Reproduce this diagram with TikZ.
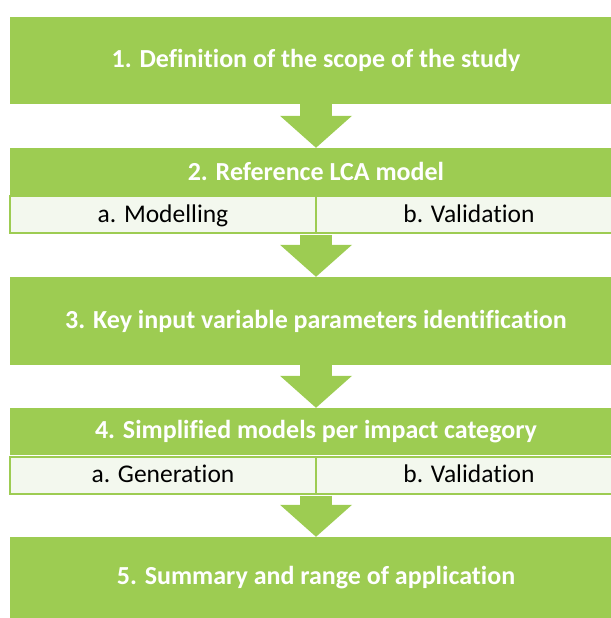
\documentclass[tikz,border=0pt]{standalone}
\usepackage{fontspec}
\setmainfont{Carlito}[Ligatures={NoCommon}]
\usetikzlibrary{arrows.meta, positioning}
\definecolor{stepgreen}{RGB}{157,204,82}
\definecolor{subfill}{RGB}{243,248,238}
\tikzset{
    stage/.style={rectangle, fill=stepgreen, text=white, font=\fontsize{26}{30}\selectfont\bfseries, minimum width=612pt, inner sep=0pt},
    sub/.style={rectangle, draw=stepgreen, line width=2pt, fill=subfill, font=\fontsize{25.5}{30}\selectfont, text height=18pt, text depth=3pt, minimum width=306pt, minimum height=37pt, inner sep=0pt},
    flow/.style={stepgreen, line width=32pt, -{Triangle[length=32pt, width=72pt, line width=0pt]}}
}

\begin{document}
\begin{tikzpicture}[x=1pt, y=-1pt]
    \useasboundingbox (0,0) rectangle (610,618);

    \node[stage, minimum height=87pt] (scope) at (316,60.5) {1. Definition of the scope of the study};
    \node[stage, minimum height=47pt] (refmodel) at (316,171.5) {2. Reference LCA model};
    \node[sub] (modelling) at (163,214.5) {a. Modelling};
    \node[sub] (refvalid) at (469,214.5) {b. Validation};
    \node[stage, minimum height=88pt] (keyparams) at (316,321) {3. Key input variable parameters identification};
    \node[stage, minimum height=47pt] (simplified) at (316,431.5) {4. Simplified models per impact category};
    \node[sub] (generation) at (163,475) {a. Generation};
    \node[sub] (simvalid) at (469,475) {b. Validation};
    \node[stage, minimum height=82pt] (summary) at (316,578) {5. Summary and range of application};

    \draw[flow] (scope.south) -- (refmodel.north);
    \draw[flow] (modelling.south -| refmodel.south) ++(0,1) -- (keyparams.north);
    \draw[flow] (keyparams.south) -- (simplified.north);
    \draw[flow] (generation.south -| simplified.south) ++(0,1) -- (summary.north);
\end{tikzpicture}
\end{document}
